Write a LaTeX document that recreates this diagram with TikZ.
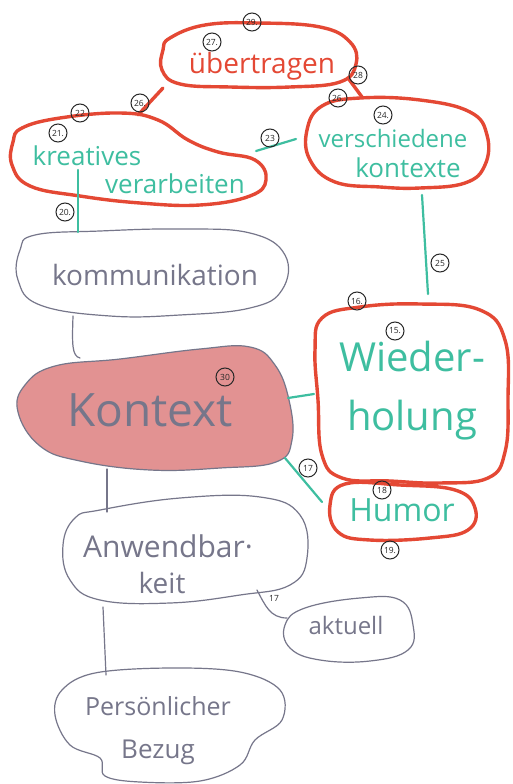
\documentclass[tikz,border=0pt]{standalone}
\usepackage{fontspec}
\setmainfont{Open Sans}
\definecolor{myred}{RGB}{228,72,52}
\definecolor{myteal}{RGB}{62,190,160}
\definecolor{mygray}{RGB}{118,118,138}
\definecolor{mypink}{RGB}{222,128,128}
\definecolor{numgray}{RGB}{40,40,40}
\tikzset{
  redblob/.style={draw=myred, line width=3.4pt, line join=round},
  grayblob/.style={draw=mygray, line width=1.2pt, line join=round},
  redline/.style={draw=myred, line width=3.4pt, line cap=round},
  tealline/.style={draw=myteal, line width=2.2pt, line cap=round},
  grayline/.style={draw=mygray, line width=1.2pt, line cap=round},
  num/.style={circle, draw=numgray, line width=1pt, minimum size=18pt, inner sep=0pt, font=\fontsize{8.5}{8.5}\selectfont, text=numgray},
  redtxt/.style={text=myred, inner sep=0pt},
  tealtxt/.style={text=myteal, inner sep=0pt},
  graytxt/.style={text=mygray, inner sep=0pt},
}
\begin{document}
\begin{tikzpicture}[x=1pt,y=-1pt]
\useasboundingbox (0,0) rectangle (513,784);
\fill[white] (0,0) rectangle (513,784);

% ---------- blobs ----------
\draw[redblob] plot[smooth cycle, tension=0.7] coordinates {(170,38) (205,25) (258,23) (320,27) (350,42) (356,64) (340,82) (290,87) (230,87) (180,84) (162,70) (163,50)};
\draw[redblob] plot[smooth cycle, tension=0.7] coordinates {(22,128) (60,118) (120,113) (158,120) (188,140) (218,152) (255,160) (266,180) (250,196) (200,205) (140,203) (80,196) (30,186) (12,165) (13,142)};
\draw[redblob] plot[smooth cycle, tension=0.7] coordinates {(322,106) (360,98) (420,100) (470,112) (487,135) (485,165) (465,183) (420,188) (380,187) (335,182) (310,160) (307,130)};
\draw[grayblob] plot[smooth cycle, tension=0.7] coordinates {(35,235) (100,231) (180,229) (250,233) (285,255) (282,290) (250,308) (180,315) (110,316) (40,305) (18,280) (20,250)};
\draw[grayblob, fill=mypink, fill opacity=0.85] plot[smooth cycle, tension=0.7] coordinates {(55,366) (120,359) (200,349) (250,347) (275,365) (289,400) (292,440) (276,462) (220,468) (150,470) (80,461) (40,446) (18,412) (25,385)};
\draw[redblob] plot[smooth cycle, tension=0.7] coordinates {(322,318) (360,307) (420,304) (480,310) (505,340) (508,400) (505,452) (488,478) (440,483) (390,481) (342,478) (322,455) (318,400) (315,350)};
\draw[redblob] plot[smooth cycle, tension=0.7] coordinates {(345,484) (400,485) (455,490) (475,508) (468,530) (430,538) (370,540) (338,532) (330,505)};
\draw[grayblob] plot[smooth cycle, tension=0.7] coordinates {(100,510) (180,498) (260,497) (300,515) (307,558) (290,585) (240,595) (170,603) (100,600) (70,580) (63,545) (75,518)};
\draw[grayblob] plot[smooth cycle, tension=0.7] coordinates {(305,608) (360,598) (400,600) (413,625) (408,650) (370,661) (320,660) (290,648) (285,625)};
\draw[grayblob] plot[smooth cycle, tension=0.6] coordinates {(95,673) (170,668) (240,672) (280,690) (282,720) (255,740) (240,765) (200,781) (140,782) (105,776) (100,758) (70,745) (55,715) (62,690)};

% ---------- texts ----------
\node[redtxt, font=\fontsize{28}{28}\selectfont] (ueb) at (262,66) {übertragen};
\node[tealtxt, font=\fontsize{26}{26}\selectfont] (kre) at (87,156) {kreatives};
\node[tealtxt, font=\fontsize{26}{26}\selectfont] (kre2) at (175,184) {verarbeiten};
\node[tealtxt, font=\fontsize{24}{24}\selectfont] (ver) at (393,138) {verschiedene};
\node[tealtxt, font=\fontsize{26}{26}\selectfont] (ver2) at (408,168) {kontexte};
\node[graytxt, font=\fontsize{28}{28}\selectfont] (kom) at (155,275) {kommunikation};
\node[graytxt, font=\fontsize{46}{46}\selectfont] (kon) at (150,410) {Kontext};
\node[tealtxt, font=\fontsize{40}{40}\selectfont] (wie) at (412,356) {Wieder-};
\node[tealtxt, font=\fontsize{40}{40}\selectfont] (wie2) at (412,420) {holung};
\node[tealtxt, font=\fontsize{32}{32}\selectfont] (hum) at (402,510) {Humor};
\node[graytxt, font=\fontsize{30}{30}\selectfont] (anw) at (168,546) {Anwendbar·};
\node[graytxt, font=\fontsize{28}{28}\selectfont] (anw2) at (162,583) {keit};
\node[graytxt, font=\fontsize{24}{24}\selectfont] (akt) at (346,625) {aktuell};
\node[graytxt, font=\fontsize{25}{25}\selectfont] (per) at (158,706) {Persönlicher};
\node[graytxt, font=\fontsize{26}{26}\selectfont] (per2) at (158,752) {Bezug};

% ---------- connector ends ----------
\coordinate (ueb-l) at (163,88);
\coordinate (kre-t) at (138,115);
\coordinate (ueb-r) at (348,78);
\coordinate (ver-t) at (362,97);
\coordinate (kre-r) at (256,151);
\coordinate (ver-l) at (296,139);
\coordinate (kre-b) at (78,170);
\coordinate (kom-t) at (78,232);
\coordinate (kom-b) at (73,316);
\coordinate (kon-t) at (80,358);
\coordinate (ver-b) at (422,195);
\coordinate (wie-t) at (428,294);
\coordinate (kon-r) at (288,398);
\coordinate (wie-l) at (314,394);
\coordinate (kon-br) at (285,458);
\coordinate (hum-l) at (322,502);
\coordinate (kon-b) at (107,469);
\coordinate (anw-t) at (107,512);
\coordinate (anw-br) at (257,590);
\coordinate (akt-l) at (287,618);
\coordinate (anw-b) at (103,607);
\coordinate (per-t) at (106,675);

% ---------- connectors ----------
\draw[redline] (ueb-l) -- (kre-t);
\draw[redline] (ueb-r) -- (ver-t);
\draw[tealline] (kre-r) -- (ver-l);
\draw[tealline] (kre-b) -- (kom-t);
\draw[grayline] (kom-b) .. controls (72,345) and (72,356) .. (kon-t);
\draw[tealline] (ver-b) -- (wie-t);
\draw[tealline] (kon-r) -- (wie-l);
\draw[tealline] (kon-br) -- (hum-l);
\draw[grayline] (kon-b) -- (anw-t);
\draw[grayline] (anw-br) .. controls (265,605) and (270,618) .. (akt-l);
\draw[grayline] (anw-b) -- (per-t);

% ---------- numbers ----------
\node[num] (n29) at (252,22) {29.};
\node[num] (n27) at (212,42) {27.};
\node[num] (n28) at (358,75) {28};
\node[num] (n26a) at (140,103) {26.};
\node[num] (n26b) at (338,98) {26.};
\node[num] (n22) at (80,113) {22};
\node[num] (n21) at (58,133) {21.};
\node[num] (n23) at (270,138) {23};
\node[num] (n24) at (383,115) {24.};
\node[num] (n20) at (65,212) {20.};
\node[num] (n25) at (440,263) {25};
\node[num] (n16) at (357,301) {16.};
\node[num] (n15) at (395,331) {15.};
\node[num] (n30) at (225,377) {30};
\node[num] (n17) at (308,468) {17};
\node[num] (n18) at (382,490) {18};
\node[num] (n19) at (390,550) {19.};
\node[text=numgray, font=\fontsize{8.5}{8.5}\selectfont, inner sep=0pt] (l17) at (274,598) {17};
\end{tikzpicture}
\end{document}
